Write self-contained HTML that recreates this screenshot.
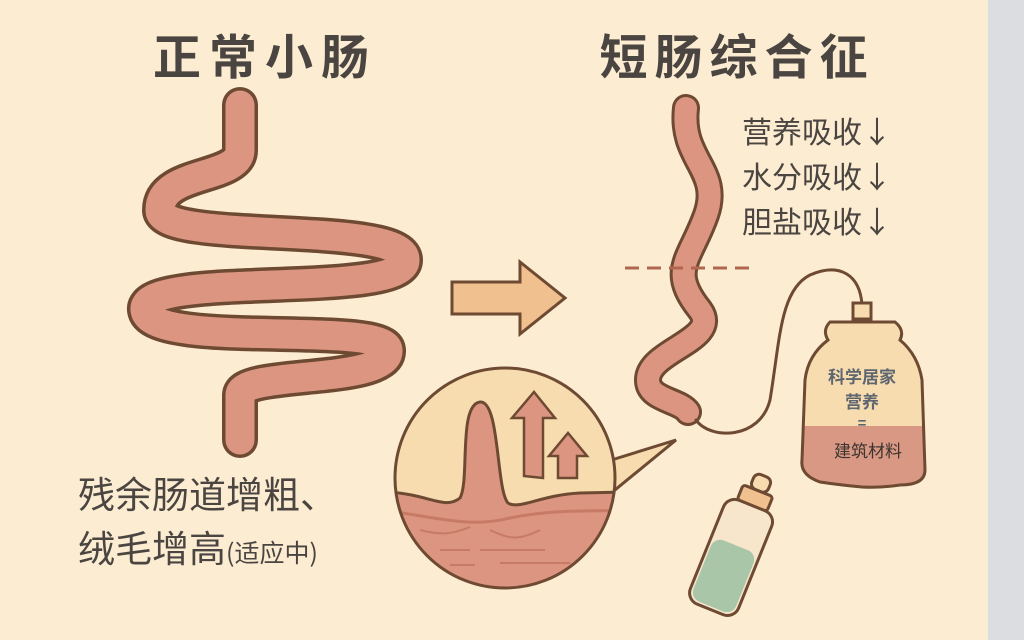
<!DOCTYPE html>
<html><head><meta charset="utf-8"><style>
html,body{margin:0;padding:0}
body{width:1024px;height:640px;overflow:hidden;background:#fcecd2;font-family:"Liberation Sans","Noto Sans CJK SC",sans-serif}
</style></head><body>
<svg width="1024" height="640" viewBox="0 0 1024 640" xmlns="http://www.w3.org/2000/svg" style="position:absolute;left:0;top:0">
<rect width="1024" height="640" fill="#fcecd2"/>
<rect x="988" y="0" width="36" height="640" fill="#dcdde0"/>
<g font-family="Liberation Sans, Noto Sans CJK SC, sans-serif">
<text x="265" y="74" font-size="48" font-weight="bold" fill="#4a4540" text-anchor="middle" letter-spacing="8">正常小肠</text>
<text x="737" y="74" font-size="48" font-weight="bold" fill="#4a4540" text-anchor="middle" letter-spacing="7">短肠综合征</text>
<text x="742" y="143" font-size="30" fill="#4a4540" font-family="Noto Sans CJK SC, sans-serif">营养吸收↓</text>
<text x="742" y="188" font-size="30" fill="#4a4540" font-family="Noto Sans CJK SC, sans-serif">水分吸收↓</text>
<text x="742" y="233" font-size="30" fill="#4a4540" font-family="Noto Sans CJK SC, sans-serif">胆盐吸收↓</text>
<text x="78" y="508" font-size="37" fill="#4a4540" font-family="Noto Sans CJK SC, sans-serif">残余肠道增粗、</text>
<text x="78" y="562" font-size="37" fill="#4a4540" font-family="Noto Sans CJK SC, sans-serif">绒毛增高<tspan font-size="25">(适应中)</tspan></text>
</g>
<g fill="none" stroke-linecap="round" stroke-linejoin="round">
<path d="M240 105 L240 150 C240 180 160 170 160 210 C160 245 405 220 405 260 C405 300 140 270 145 310 C150 350 385 320 388 350 C390 385 240 370 240 395 L240 440" stroke="#6e4a33" stroke-width="36"/>
<path d="M240 105 L240 150 C240 180 160 170 160 210 C160 245 405 220 405 260 C405 300 140 270 145 310 C150 350 385 320 388 350 C390 385 240 370 240 395 L240 440" stroke="#dc9580" stroke-width="29"/>
<path d="M686 108 C680 160 722 170 706 215 C690 260 668 270 700 310 C722 340 648 350 648 380 C648 400 680 400 688 412" stroke="#6e4a33" stroke-width="28"/>
<path d="M686 108 C680 160 722 170 706 215 C690 260 668 270 700 310 C722 340 648 350 648 380 C648 400 680 400 688 412" stroke="#dc9580" stroke-width="22"/>
<path d="M696 420 C710 440 760 440 770 400 C780 340 780 290 810 275 C840 262 860 275 862 305" stroke="#6e4a33" stroke-width="3"/>
</g>
<line x1="625" y1="268" x2="752" y2="268" stroke="#b0674f" stroke-width="3" stroke-dasharray="14 8"/>
<path d="M452 282 L520 282 L520 262 L565 298 L520 334 L520 314 L452 314 Z" fill="#f0c08e" stroke="#6e4a33" stroke-width="3"/>
<path d="M605 462 L676 440 L610 494 Z" fill="#f7dcb0" stroke="#6e4a33" stroke-width="3"/>
<clipPath id="cc"><circle cx="505" cy="478" r="110"/></clipPath>
<circle cx="505" cy="478" r="110" fill="#f7dcb0"/>
<g clip-path="url(#cc)">
<path d="M390 492 C430 495 445 510 460 498 C470 480 458 405 480 402 C500 400 496 490 508 503 C520 510 540 495 580 493 L630 492 L630 620 L390 620 Z" fill="#dc9580" stroke="#6e4a33" stroke-width="3"/>
<path d="M395 512 C440 518 470 528 510 518 C560 508 600 512 630 510" stroke="#c77a66" stroke-width="3" fill="none"/>
<path d="M420 530 C440 535 450 535 470 527 M490 530 C510 540 520 540 540 530 M440 550 L470 550 M480 550 L545 550 M450 565 L475 565 M500 563 L570 563" stroke="#c77a66" stroke-width="2" fill="none"/>
</g>
<circle cx="505" cy="478" r="110" fill="none" stroke="#6e4a33" stroke-width="3"/>
<path d="M524 476 L524 418 L512 418 L534 392 L555 418 L543 418 L543 478 Z" fill="#dc9580" stroke="#6e4a33" stroke-width="2.5"/>
<path d="M558 478 L558 456 L549 456 L568 433 L587 456 L577 456 L577 478 Z" fill="#dc9580" stroke="#6e4a33" stroke-width="2.5"/>
<rect x="853" y="303" width="18" height="16" fill="#f7dcb0" stroke="#6e4a33" stroke-width="3"/>
<clipPath id="bc"><path d="M830 322 L895 322 Q905 330 900 340 Q918 355 922 380 L925 470 Q925 485 900 485 Q880 488 862 487 Q840 485 820 482 Q800 475 802 460 L805 380 Q808 355 828 340 Q822 330 830 322 Z"/></clipPath>
<g clip-path="url(#bc)">
<rect x="790" y="310" width="150" height="190" fill="#f7dcb0"/>
<rect x="790" y="426" width="150" height="70" fill="#d99884"/>
</g>
<path d="M830 322 L895 322 Q905 330 900 340 Q918 355 922 380 L925 470 Q925 485 900 485 Q880 488 862 487 Q840 485 820 482 Q800 475 802 460 L805 380 Q808 355 828 340 Q822 330 830 322 Z" fill="none" stroke="#6e4a33" stroke-width="3"/>
<g font-family="Liberation Sans, Noto Sans CJK SC, sans-serif" text-anchor="middle">
<text x="862" y="383" font-size="17" font-weight="bold" fill="#5e6670">科学居家</text>
<text x="862" y="408" font-size="17" font-weight="bold" fill="#5e6670">营养</text>
<text x="862" y="428" font-size="15" font-weight="bold" fill="#5e6670">=</text>
<text x="868" y="457" font-size="17" fill="#3c3430">建筑材料</text>
</g>
<g transform="rotate(22 735 545)">
<rect x="727" y="470" width="18" height="16" rx="6" fill="#f7dcb0" stroke="#6e4a33" stroke-width="3"/>
<rect x="720" y="486" width="32" height="16" rx="3" fill="#f0c08e" stroke="#6e4a33" stroke-width="3"/>
<rect x="710" y="502" width="52" height="112" rx="12" fill="#f7e6cc"/>
<rect x="713" y="545" width="46" height="66" rx="10" fill="#a9c6a8"/>
<rect x="710" y="502" width="52" height="112" rx="12" fill="none" stroke="#6e4a33" stroke-width="3"/>
</g>
</svg>
</body></html>
